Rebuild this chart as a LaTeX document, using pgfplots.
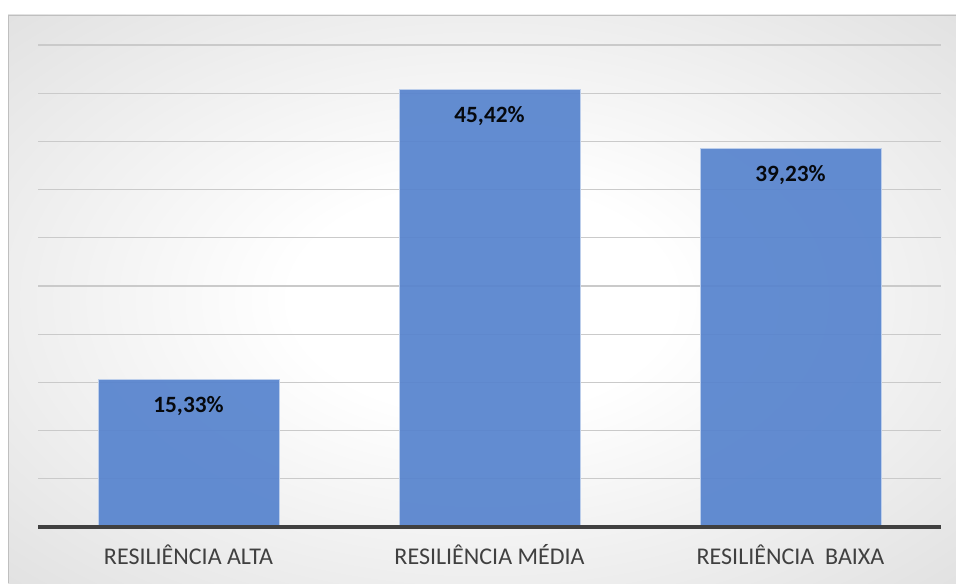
\documentclass[border=0pt]{standalone}
\usepackage{pgfplots}
\pgfplotsset{compat=1.18}
\usepackage{fontspec}
\setmainfont{Carlito}
\definecolor{barblue}{HTML}{5784CE}
\definecolor{gridc}{HTML}{CACACA}
\definecolor{axisc}{HTML}{404040}
\pgfdeclareradialshading{chartbg}{\pgfpoint{0bp}{0bp}}{%
  color(0bp)=(white); color(10bp)=(white); color(70bp)=(black!27)}

\begin{document}
\begin{tikzpicture}
% page and chart area (1 unit = 1 px of the reference)
\begin{scope}[x=0.75pt,y=0.75pt]
\fill[white] (-38,-56) rectangle (918,527);
\useasboundingbox (-38,-56) rectangle (918,527);
\shade[shading=chartbg] (-30,-56) rectangle (918,512);
\draw[black!25] (-30,-56) -- (-30,512) -- (918,512);
\end{scope}
\begin{axis}[
  scale only axis,
  width=677.25pt, height=361.5pt,
  at={(0,0)}, anchor=south west,
  xmin=-0.5, xmax=2.5,
  ymin=0, ymax=50,
  ytick={5,10,...,50},
  yticklabels={},
  major tick length=0pt,
  ymajorgrids,
  grid style={gridc, line width=1pt},
  axis line style={draw=none},
  xtick={0,1,2},
  xticklabels={RESILIÊNCIA ALTA, RESILIÊNCIA MÉDIA, RESILIÊNCIA\ \ BAIXA},
  xticklabel style={font=\fontsize{18}{20}\selectfont, text=axisc, yshift=-9.5pt},
  /pgf/number format/assume math mode=true,
  ybar,
  bar width=135.75pt,
  nodes near coords={\pgfmathprintnumber[fixed, fixed zerofill, precision=2, use comma]{\pgfplotspointmeta}\%},
  nodes near coords style={font=\bfseries\fontsize{17.5}{20}\selectfont, text=black, anchor=north, yshift=-9pt},
  clip=false,
]
  \addplot[fill=barblue, fill opacity=0.93, draw=white!60!barblue, line width=0.6pt]
    coordinates {(0,15.33) (1,45.42) (2,39.23)};
  \draw[axisc, line width=2.3pt] (axis cs:-0.5,0) -- (axis cs:2.5,0);
\end{axis}
\end{tikzpicture}
\end{document}
